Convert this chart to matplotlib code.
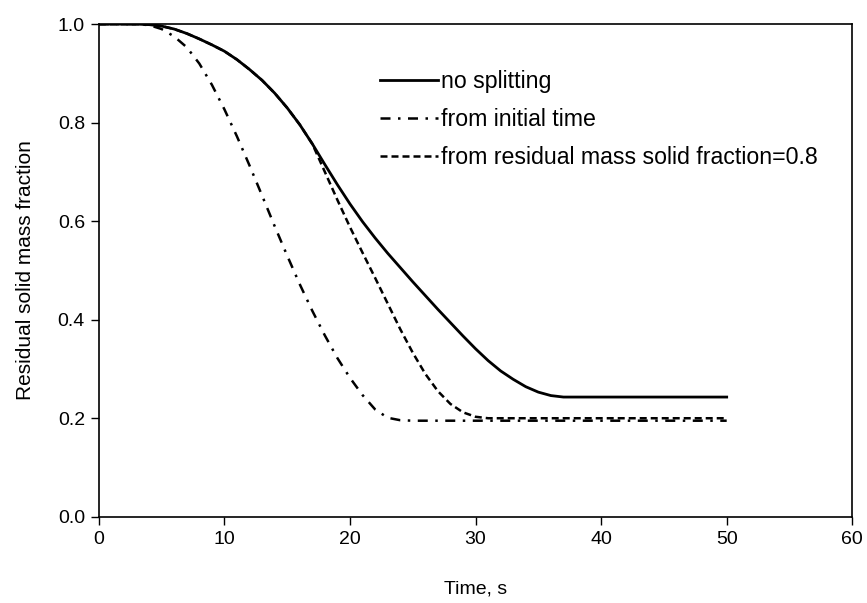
import matplotlib
matplotlib.use("Agg")
import matplotlib.pyplot as plt
from matplotlib.ticker import FormatStrFormatter

plt.rcParams['font.family'] = ['Liberation Sans', 'DejaVu Sans']

# Data (time in s, residual solid mass fraction)
t_no_split = [0, 1, 2, 3, 4, 5, 6, 7, 8, 9, 10, 11, 12, 13, 14, 15, 16, 17, 18, 19, 20,
              21, 22, 23, 24, 25, 26, 27, 28, 29, 30, 31, 32, 33, 34, 35, 36, 37, 40, 45, 50]
v_no_split = [1.0, 1.0, 1.0, 1.0, 0.999, 0.996, 0.99, 0.981, 0.970, 0.958, 0.945, 0.928, 0.908,
              0.886, 0.86, 0.83, 0.796, 0.757, 0.715, 0.674, 0.635, 0.599, 0.566, 0.535, 0.506,
              0.477, 0.449, 0.421, 0.394, 0.367, 0.341, 0.317, 0.296, 0.279, 0.264, 0.253, 0.246,
              0.243, 0.243, 0.243, 0.243]

t_initial = [0, 1, 2, 3, 4, 5, 6, 7, 8, 9, 10, 11, 12, 13, 14, 15, 16, 17, 18, 19, 20,
             21, 22, 23, 24, 25, 30, 40, 50]
v_initial = [1.0, 1.0, 1.0, 1.0, 0.998, 0.99, 0.975, 0.953, 0.92, 0.877, 0.827, 0.772, 0.713,
             0.652, 0.59, 0.53, 0.472, 0.418, 0.368, 0.322, 0.282, 0.247, 0.218, 0.201, 0.196,
             0.195, 0.195, 0.195, 0.195]

t_residual = [0, 1, 2, 3, 4, 5, 6, 7, 8, 9, 10, 11, 12, 13, 14, 15, 16, 17, 18, 19, 20,
              21, 22, 23, 24, 25, 26, 27, 28, 29, 30, 31, 35, 40, 50]
v_residual = [1.0, 1.0, 1.0, 1.0, 0.999, 0.996, 0.99, 0.981, 0.970, 0.958, 0.945, 0.928, 0.908,
              0.886, 0.86, 0.83, 0.796, 0.757, 0.700, 0.643, 0.588, 0.536, 0.485, 0.433, 0.381,
              0.333, 0.290, 0.255, 0.229, 0.212, 0.203, 0.200, 0.200, 0.200, 0.200]

labels = ["no splitting", "from initial time", "from residual mass solid fraction=0.8"]
x_ticks = [0, 10, 20, 30, 40, 50, 60]
y_ticks = [0.0, 0.2, 0.4, 0.6, 0.8, 1.0]

fig = plt.figure(figsize=(8.67, 6.03), dpi=100)
ax = fig.add_axes([0.114, 0.143, 0.869, 0.817])

ax.plot(t_no_split, v_no_split, color='black', lw=2.0, ls='-', label=labels[0])
ax.plot(t_initial, v_initial, color='black', lw=1.8, ls=(0, (4, 3, 1, 3)), label=labels[1])
ax.plot(t_residual, v_residual, color='black', lw=1.8, ls=(0, (2.8, 1.6)), label=labels[2])

ax.set_xlim(0, 60)
ax.set_ylim(0, 1.0)
ax.set_xticks(x_ticks)
ax.set_yticks(y_ticks)
ax.yaxis.set_major_formatter(FormatStrFormatter('%.1f'))
ax.tick_params(direction='out', length=6, width=1, labelsize=14, colors='black', pad=4)
for s in ax.spines.values():
    s.set_linewidth(1.2)
    s.set_color('black')

ax.set_xlabel("Time, s", fontsize=14, labelpad=24)
ax.set_ylabel("Residual solid mass fraction", fontsize=15, labelpad=16)

leg = ax.legend(loc='upper left', bbox_to_anchor=(380/867, 1 - 70/603), bbox_transform=fig.transFigure,
                frameon=False, fontsize=16.7, handlelength=2.5, handletextpad=0.15, labelspacing=0.65,
                borderpad=0, borderaxespad=0)

fig.savefig("out.png", dpi=100)
